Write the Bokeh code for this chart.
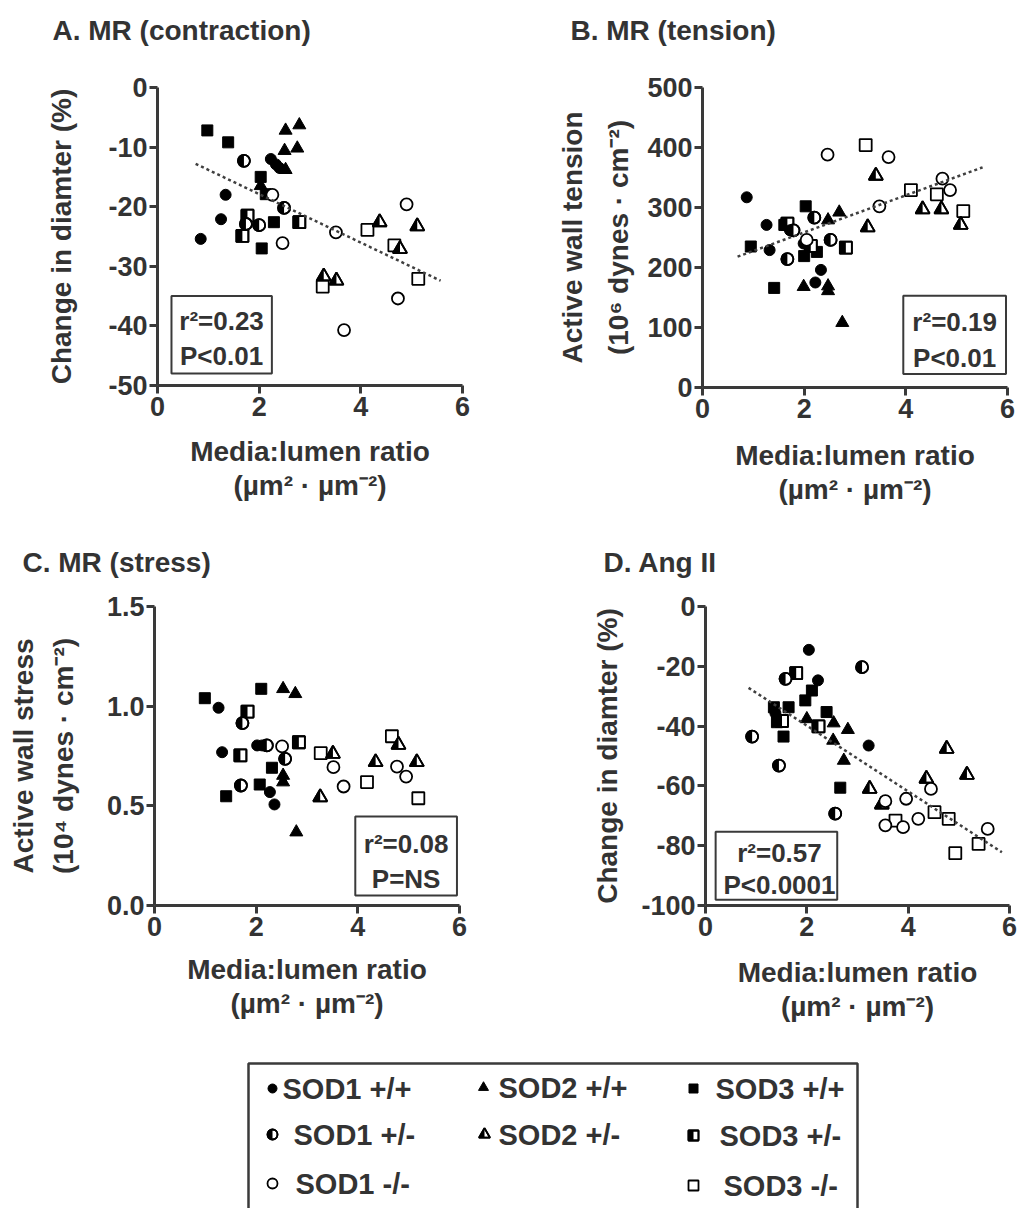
import math
from bokeh.plotting import figure
from bokeh.layouts import column, row
from bokeh.models import Range1d, FixedTicker, BoxAnnotation
from bokeh.core.properties import value
from bokeh.embed import file_html
from bokeh.resources import INLINE

# ============================ DATA ============================
GROUPS = ["SOD1 +/+", "SOD1 +/-", "SOD1 -/-", "SOD2 +/+", "SOD2 +/-",
          "SOD3 +/+", "SOD3 +/-", "SOD3 -/-"]
X_TICKS = [0, 2, 4, 6]
X_LABEL = "Media:lumen ratio\n(µm² · µm⁻²)"
TITLES = ["A. MR (contraction)", "B. MR (tension)", "C. MR (stress)", "D. Ang II"]

# ---- Panel A: MR (contraction), change in diameter (%)
A_SOD1_WT_X = [1.34, 1.25, 0.85, 2.23, 2.33, 2.40]
A_SOD1_WT_Y = [-18.0, -22.1, -25.4, -12.0, -12.9, -13.5]
A_SOD1_HET_X = [1.70, 2.00, 1.74, 2.49]
A_SOD1_HET_Y = [-12.3, -23.1, -22.9, -20.2]
A_SOD1_KO_X = [2.26, 2.46, 3.51, 4.90, 4.73, 3.67]
A_SOD1_KO_Y = [-18.0, -26.1, -24.3, -19.6, -35.4, -40.7]
A_SOD2_WT_X = [2.52, 2.79, 2.50, 2.75, 2.52, 2.03]
A_SOD2_WT_Y = [-7.2, -6.3, -10.6, -10.2, -13.8, -16.5]
A_SOD2_HET_X = [4.37, 5.11, 4.77, 3.27, 3.52]
A_SOD2_HET_Y = [-22.6, -23.3, -27.1, -31.7, -32.4]
A_SOD3_WT_X = [0.98, 1.39, 2.03, 2.13, 2.29, 2.05]
A_SOD3_WT_Y = [-7.2, -9.2, -15.0, -17.9, -22.6, -27.0]
A_SOD3_HET_X = [1.77, 1.67, 2.79]
A_SOD3_HET_Y = [-21.5, -24.9, -22.6]
A_SOD3_KO_X = [4.13, 4.66, 5.13, 3.25]
A_SOD3_KO_Y = [-23.9, -26.5, -32.1, -33.4]
A_FIT_SLOPE, A_FIT_INTERCEPT, A_FIT_X = -4.07, -9.75, [0.75, 5.57]
A_STATS = ["r²=0.23", "P<0.01"]
A_Y_TICKS = [-50, -40, -30, -20, -10, 0]
A_Y_TICK_LABELS = ["-50", "-40", "-30", "-20", "-10", "0"]

# ---- Panel B: MR (tension), active wall tension (10^6 dynes/cm2)
B_SOD1_WT_X = [0.87, 1.26, 1.32, 1.72, 1.99, 2.33, 2.22]
B_SOD1_WT_Y = [317, 271, 229, 262, 240, 196, 175]
B_SOD1_HET_X = [2.20, 1.67, 2.52, 1.79]
B_SOD1_HET_Y = [283, 214, 246, 262]
B_SOD1_KO_X = [2.46, 3.66, 3.48, 4.72, 4.87, 2.05]
B_SOD1_KO_Y = [388, 384, 302, 348, 329, 246]
B_SOD2_WT_X = [2.69, 2.47, 1.99, 2.47, 2.47, 2.75]
B_SOD2_WT_Y = [292, 279, 168, 169, 161, 108]
B_SOD2_HET_X = [3.41, 3.25, 4.33, 4.70, 5.08]
B_SOD2_HET_Y = [353, 267, 297, 297, 271]
B_SOD3_WT_X = [0.95, 2.03, 1.61, 2.00, 2.25, 1.41]
B_SOD3_WT_Y = [235, 302, 271, 219, 226, 166]
B_SOD3_HET_X = [1.67, 2.13, 2.82]
B_SOD3_HET_Y = [273, 236, 233]
B_SOD3_KO_X = [3.21, 4.10, 4.61, 5.13]
B_SOD3_KO_Y = [404, 329, 322, 294]
B_FIT_SLOPE, B_FIT_INTERCEPT, B_FIT_X = 30.9, 196.7, [0.69, 5.51]
B_STATS = ["r²=0.19", "P<0.01"]
B_Y_TICKS = [0, 100, 200, 300, 400, 500]
B_Y_TICK_LABELS = ["0", "100", "200", "300", "400", "500"]

# ---- Panel C: MR (stress), active wall stress (10^4 dynes/cm2)
C_SOD1_WT_X = [1.26, 1.33, 2.27, 2.36, 2.02, 2.12]
C_SOD1_WT_Y = [0.992, 0.769, 0.569, 0.507, 0.803, 0.803]
C_SOD1_HET_X = [1.73, 1.70, 2.21, 2.57]
C_SOD1_HET_Y = [0.915, 0.602, 0.803, 0.736]
C_SOD1_KO_X = [2.51, 3.52, 3.72, 4.77, 4.95]
C_SOD1_KO_Y = [0.798, 0.694, 0.597, 0.697, 0.647]
C_SOD2_WT_X = [2.53, 2.77, 2.53, 2.53, 2.79]
C_SOD2_WT_Y = [1.087, 1.062, 0.652, 0.619, 0.368]
C_SOD2_HET_X = [3.51, 3.26, 4.35, 4.80, 5.16]
C_SOD2_HET_Y = [0.761, 0.543, 0.719, 0.806, 0.719]
C_SOD3_WT_X = [0.99, 2.10, 1.41, 2.07, 2.31]
C_SOD3_WT_Y = [1.040, 1.087, 0.548, 0.607, 0.691]
C_SOD3_HET_X = [1.83, 1.69, 2.84]
C_SOD3_HET_Y = [0.973, 0.753, 0.819]
C_SOD3_KO_X = [3.27, 4.18, 4.67, 5.19]
C_SOD3_KO_Y = [0.764, 0.619, 0.849, 0.538]
C_STATS = ["r²=0.08", "P=NS"]
C_Y_TICKS = [0, 0.5, 1.0, 1.5]
C_Y_TICK_LABELS = ["0.0", "0.5", "1.0", "1.5"]

# ---- Panel D: Ang II, change in diameter (%)
D_SOD1_WT_X = [2.04, 2.22, 3.22, 1.38]
D_SOD1_WT_Y = [-14.5, -24.7, -46.5, -35.7]
D_SOD1_HET_X = [1.58, 3.09, 0.92, 1.45, 2.56]
D_SOD1_HET_Y = [-24.2, -20.3, -43.5, -53.2, -69.3]
D_SOD1_KO_X = [3.55, 3.55, 3.90, 3.96, 4.20, 4.45, 5.57]
D_SOD1_KO_Y = [-65.1, -73.2, -73.8, -64.3, -71.0, -61.0, -74.4]
D_SOD2_WT_X = [2.00, 2.53, 2.81, 2.52, 2.73]
D_SOD2_WT_Y = [-37.6, -39.0, -41.2, -44.8, -51.5]
D_SOD2_HET_X = [3.24, 3.48, 4.36, 4.76, 5.16]
D_SOD2_HET_Y = [-61.0, -66.2, -57.6, -47.6, -56.3]
D_SOD3_WT_X = [1.35, 1.41, 1.54, 1.64, 1.97, 2.10, 2.39, 2.66]
D_SOD3_WT_Y = [-33.7, -38.7, -43.5, -33.7, -31.4, -28.1, -35.3, -60.6]
D_SOD3_HET_X = [1.79, 1.51, 2.23]
D_SOD3_HET_Y = [-22.3, -38.3, -40.1]
D_SOD3_KO_X = [3.75, 4.52, 4.80, 4.93, 5.39]
D_SOD3_KO_Y = [-71.6, -68.8, -71.0, -82.5, -79.4]
D_FIT_SLOPE, D_FIT_INTERCEPT, D_FIT_X = -11.0, -17.85, [0.85, 5.85]
D_STATS = ["r²=0.57", "P<0.0001"]
D_Y_TICKS = [-100, -80, -60, -40, -20, 0]
D_Y_TICK_LABELS = ["-100", "-80", "-60", "-40", "-20", "0"]

# ============================ STYLE ============================
FONT = "Liberation Sans"
TXT = "#333333"
AXC = "#3a3a3a"
OPEN_LW = 1.8
SHAPES = {"SOD1": "circle", "SOD2": "triangle", "SOD3": "square"}
FILLS = {"+/+": "full", "+/-": "half", "-/-": "open"}
SIZES = {"circle": 12, "square": 12, "triangle": 14}
LEG_SIZES = {"circle": 10, "square": 10, "triangle": 11}
DRAW_ORDER = [5, 6, 7, 3, 4, 0, 1, 2]


def style_of(group):
    gene, geno = group.split(" ")
    return SHAPES[gene], FILLS[geno]


def add_points(p, xs, ys, shape, fill, ppx, ppy, size):
    if not xs:
        return
    if fill == "full":
        p.scatter(x=xs, y=ys, marker=shape, size=size - 1, fill_color="black",
                  line_color="black", line_width=1)
        return
    p.scatter(x=xs, y=ys, marker=shape, size=size, fill_color="white",
              line_color="black", line_width=OPEN_LW)
    if fill == "half":
        r = size / 2.0
        if shape == "circle":
            p.wedge(x=xs, y=ys, radius=r, radius_units="screen",
                    start_angle=math.pi / 2, end_angle=3 * math.pi / 2,
                    fill_color="black", line_color=None)
        elif shape == "square":
            p.quad(left=[x - r / ppx for x in xs], right=list(xs),
                   bottom=[y - r / ppy for y in ys], top=[y + r / ppy for y in ys],
                   fill_color="black", line_color=None)
        else:
            h = r * math.sqrt(3)
            a = h / 3.0
            pxs = [[x - r / ppx, x, x] for x in xs]
            pys = [[y - a / ppy, y - a / ppy, y + 2 * a / ppy] for y in ys]
            p.patches(xs=pxs, ys=pys, fill_color="black", line_color=None)
        p.scatter(x=xs, y=ys, marker=shape, size=size, fill_color=None,
                  line_color="black", line_width=OPEN_LW)


def blank_fig(w, top, bottom):
    """A figure with no axes whose data units are page pixels (y down)."""
    f = figure(frame_width=w, frame_height=bottom - top, min_border=0,
               x_range=Range1d(0, w), y_range=Range1d(bottom, top),
               x_axis_location=None, y_axis_location=None, title=None,
               toolbar_location=None, output_backend="svg")
    f.outline_line_color = None
    f.grid.visible = False
    return f


def header(top, bottom, titles, positions):
    f = blank_fig(1024, top, bottom)
    f.text(x=[q[0] for q in positions], y=[q[1] for q in positions], text=titles,
           text_font=value(FONT), text_font_size="28px", text_font_style="bold",
           text_color=TXT, text_align="left", text_baseline="alphabetic")
    return f


def build_panel(g, xr, yr, yticks, ylabels, series, fit, box, stats, stats_pos, ylab):
    p = figure(frame_width=g["fw"], frame_height=g["fh"],
               min_border_left=g["bl"], min_border_right=g["br"],
               min_border_top=g["bt"], min_border_bottom=g["bb"],
               x_range=Range1d(*xr), y_range=Range1d(*yr), title=None,
               toolbar_location=None, output_backend="svg")
    p.outline_line_color = None
    p.grid.visible = False
    p.background_fill_color = "white"
    p.border_fill_color = "white"
    p.xaxis.ticker = FixedTicker(ticks=X_TICKS)
    p.yaxis.ticker = FixedTicker(ticks=yticks)
    p.yaxis.major_label_overrides = {t: s for t, s in zip(yticks, ylabels)}
    p.xaxis.major_label_overrides = {t: str(t) for t in X_TICKS}
    for ax in (p.xaxis[0], p.yaxis[0]):
        ax.axis_line_width = 3
        ax.axis_line_color = AXC
        ax.major_tick_line_width = 3
        ax.major_tick_line_color = AXC
        ax.major_tick_out = 8
        ax.major_tick_in = 0
        ax.minor_tick_line_color = None
        ax.major_label_text_font = FONT
        ax.major_label_text_font_size = "27px"
        ax.major_label_text_font_style = "bold"
        ax.major_label_text_color = TXT
        ax.axis_label_text_font = FONT
        ax.axis_label_text_font_size = "28px"
        ax.axis_label_text_font_style = "bold"
        ax.axis_label_text_color = TXT
    p.yaxis.major_label_standoff = 2
    p.xaxis.major_label_standoff = 3
    p.xaxis.axis_label = X_LABEL
    p.xaxis.axis_label_standoff = g["xls"]
    p.xaxis.axis_label_text_line_height = 1.1
    p.yaxis.axis_label = ylab
    p.yaxis.axis_label_standoff = g["yls"]
    p.yaxis.axis_label_text_line_height = g["ylh"]

    ppx = g["fw"] / (xr[1] - xr[0])
    ppy = g["fh"] / (yr[1] - yr[0])
    for i in DRAW_ORDER:
        shape, fill = style_of(GROUPS[i])
        xs, ys = series[i]
        add_points(p, xs, ys, shape, fill, ppx, ppy, SIZES[shape])

    if fit is not None:
        slope, icpt, fx = fit
        p.line(x=fx, y=[slope * v + icpt for v in fx], line_dash="3 3",
               line_width=2.5, line_color="#404040")

    p.add_layout(BoxAnnotation(left=box[0], right=box[1], bottom=box[2], top=box[3],
                               fill_color=None, fill_alpha=0, line_color=AXC,
                               line_alpha=1.0, line_width=2))
    p.text(x=[q[0] for q in stats_pos], y=[q[1] for q in stats_pos], text=stats,
           text_font=value(FONT), text_font_size="26px", text_font_style="bold",
           text_color=TXT, text_align="center", text_baseline="middle")
    return p


# frame placement in page pixels (borders around fixed-size frames)
HEAD1 = (0, 55)
HEAD2 = (530, 578)
GEOM = {
    "A": dict(bl=157, fw=305, br=58, bt=30, fh=298, bb=147, xls=17, yls=28, ylh=1.2),
    "B": dict(bl=182, fw=305, br=17, bt=32, fh=300, bb=143, xls=19, yls=10, ylh=1.5),
    "C": dict(bl=154, fw=305, br=61, bt=28, fh=299, bb=135, xls=15, yls=25, ylh=1.3),
    "D": dict(bl=185, fw=304, br=15, bt=28, fh=299, bb=135, xls=18, yls=15, ylh=1.2),
}

h1 = header(HEAD1[0], HEAD1[1], TITLES[:2], [(52, 29.5), (570, 30)])
h2 = header(HEAD2[0], HEAD2[1], TITLES[2:], [(22, 562), (603, 562)])

pA = build_panel(
    GEOM["A"], (0, 6), (-50, 0), A_Y_TICKS, A_Y_TICK_LABELS,
    [(A_SOD1_WT_X, A_SOD1_WT_Y), (A_SOD1_HET_X, A_SOD1_HET_Y), (A_SOD1_KO_X, A_SOD1_KO_Y),
     (A_SOD2_WT_X, A_SOD2_WT_Y), (A_SOD2_HET_X, A_SOD2_HET_Y),
     (A_SOD3_WT_X, A_SOD3_WT_Y), (A_SOD3_HET_X, A_SOD3_HET_Y), (A_SOD3_KO_X, A_SOD3_KO_Y)],
    (A_FIT_SLOPE, A_FIT_INTERCEPT, A_FIT_X),
    (0.275, 2.25, -48.0, -35.0), A_STATS, [(1.26, -39.1), (1.26, -45.0)],
    "Change in diamter (%)")

pB = build_panel(
    GEOM["B"], (0, 6), (0, 500), B_Y_TICKS, B_Y_TICK_LABELS,
    [(B_SOD1_WT_X, B_SOD1_WT_Y), (B_SOD1_HET_X, B_SOD1_HET_Y), (B_SOD1_KO_X, B_SOD1_KO_Y),
     (B_SOD2_WT_X, B_SOD2_WT_Y), (B_SOD2_HET_X, B_SOD2_HET_Y),
     (B_SOD3_WT_X, B_SOD3_WT_Y), (B_SOD3_HET_X, B_SOD3_HET_Y), (B_SOD3_KO_X, B_SOD3_KO_Y)],
    (B_FIT_SLOPE, B_FIT_INTERCEPT, B_FIT_X),
    (3.95, 5.97, 22.3, 152.8), B_STATS, [(4.96, 109.5), (4.96, 50.0)],
    "Active wall tension\n(10⁶ dynes · cm⁻²)")

pC = build_panel(
    GEOM["C"], (0, 6), (0, 1.5), C_Y_TICKS, C_Y_TICK_LABELS,
    [(C_SOD1_WT_X, C_SOD1_WT_Y), (C_SOD1_HET_X, C_SOD1_HET_Y), (C_SOD1_KO_X, C_SOD1_KO_Y),
     (C_SOD2_WT_X, C_SOD2_WT_Y), (C_SOD2_HET_X, C_SOD2_HET_Y),
     (C_SOD3_WT_X, C_SOD3_WT_Y), (C_SOD3_HET_X, C_SOD3_HET_Y), (C_SOD3_KO_X, C_SOD3_KO_Y)],
    None,
    (3.95, 5.95, 0.05, 0.447), C_STATS, [(4.95, 0.311), (4.95, 0.135)],
    "Active wall stress\n(10⁴ dynes · cm⁻²)")

pD = build_panel(
    GEOM["D"], (0, 6), (-100, 0), D_Y_TICKS, D_Y_TICK_LABELS,
    [(D_SOD1_WT_X, D_SOD1_WT_Y), (D_SOD1_HET_X, D_SOD1_HET_Y), (D_SOD1_KO_X, D_SOD1_KO_Y),
     (D_SOD2_WT_X, D_SOD2_WT_Y), (D_SOD2_HET_X, D_SOD2_HET_Y),
     (D_SOD3_WT_X, D_SOD3_WT_Y), (D_SOD3_HET_X, D_SOD3_HET_Y), (D_SOD3_KO_X, D_SOD3_KO_Y)],
    (D_FIT_SLOPE, D_FIT_INTERCEPT, D_FIT_X),
    (0.2, 2.6, -98.1, -75.3), D_STATS, [(1.46, -82.4), (1.46, -93.3)],
    "Change in diamter (%)")

# ============================ LEGEND ============================
LEG_TOP, LEG_BOTTOM = 1040, 1208
LEG_BOX_X = [248, 248, 857, 857]
LEG_BOX_Y = [1220, 1063, 1063, 1220]
# (group index, marker x, row y, text x) in page pixels
LEG_POS = [(0, 272, 1088, 282), (1, 272, 1134, 293), (2, 272, 1183, 295),
           (3, 483, 1087, 498), (4, 484, 1134, 498),
           (5, 693, 1088, 715), (6, 693, 1135, 719), (7, 693, 1185, 723)]

lp = blank_fig(1024, LEG_TOP, LEG_BOTTOM)
lp.line(x=LEG_BOX_X, y=LEG_BOX_Y, line_width=2.5, line_color=AXC)
for gi, mx, my, tx in LEG_POS:
    shape, fill = style_of(GROUPS[gi])
    add_points(lp, [mx], [my], shape, fill, 1.0, -1.0, LEG_SIZES[shape])
lp.text(x=[q[3] for q in LEG_POS], y=[q[2] for q in LEG_POS],
        text=[GROUPS[q[0]] for q in LEG_POS],
        text_font=value(FONT), text_font_size="29px", text_font_style="bold",
        text_color=TXT, text_align="left", text_baseline="middle")

layout = column(h1, row(pA, pB), h2, row(pC, pD), lp)
open("out.html", "w").write(file_html(layout, INLINE))
